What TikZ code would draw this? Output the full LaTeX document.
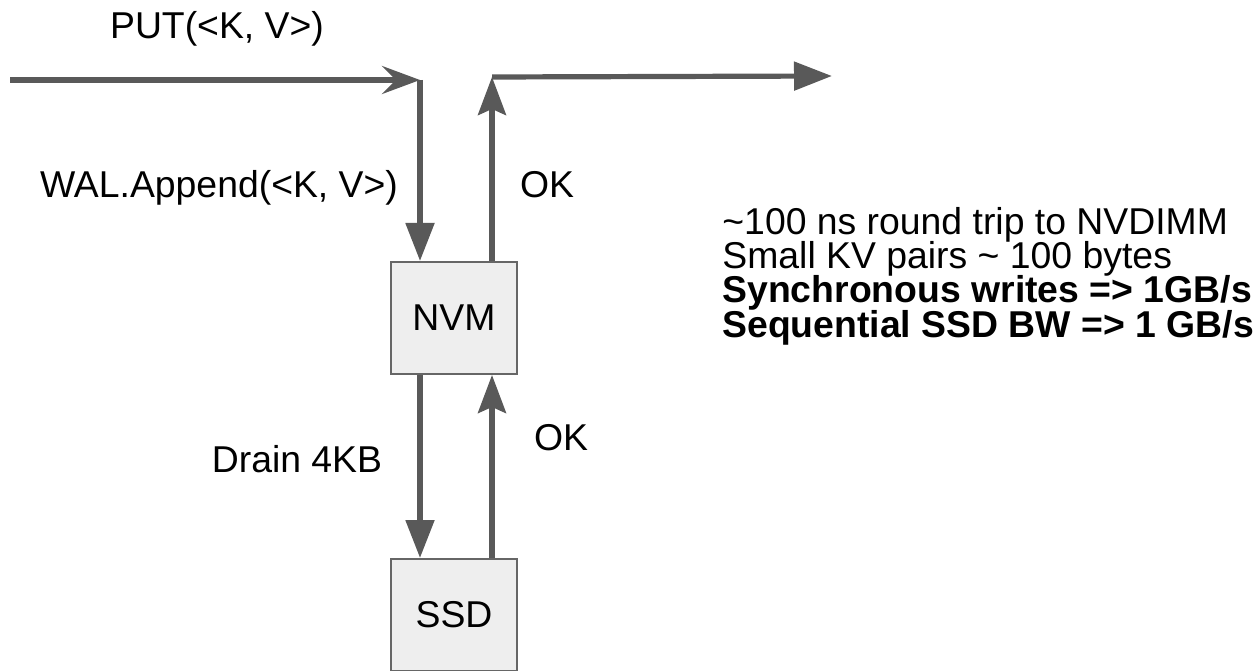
\documentclass[tikz,border=0pt]{standalone}
\usepackage{fontspec}
\setmainfont{Liberation Sans}
\usetikzlibrary{arrows.meta}
\definecolor{arrowgray}{HTML}{595959}
\definecolor{boxfill}{HTML}{EEEEEE}
\definecolor{boxline}{HTML}{666666}

\begin{document}
\begin{tikzpicture}[x=0.5bp, y=-0.5bp,
	every node/.style={font=\fontsize{18.75}{17.2}\selectfont, inner sep=0pt},
	store/.style={draw=boxline, line width=1bp, fill=boxfill, minimum width=63bp, minimum height=56bp},
	flow/.style={draw=arrowgray, line width=2.6bp},
	push/.style={flow, -{Triangle[length=19bp, width=14bp]}},
	back/.style={flow, -{Stealth[length=19bp, width=14bp, inset=3bp]}},
	feed/.style={flow, -{Stealth[length=19bp, width=14bp, inset=7bp]}}]
	\useasboundingbox (0,0) rectangle (1258,670);
	\node[store] (nvm) at (454,318) {NVM};
	\node[store] (ssd) at (454,615) {SSD};
	\coordinate (in) at (10,80);
	\coordinate (turn) at (420,80);
	\coordinate (ack) at (492,77);
	\coordinate (out) at (832,76);
	\draw[feed] (in) -- (turn);
	\draw[push] (turn) -- (turn |- nvm.north);
	\draw[back] (ack |- nvm.north) -- (ack);
	\draw[push] (ack) -- (out);
	\draw[push] (turn |- nvm.south) -- (turn |- ssd.north);
	\draw[back] (ack |- ssd.north) -- (ack |- nvm.south);
	\node[anchor=base] (put) at (217,39) {PUT(<K, V>)};
	\node[anchor=base] (append) at (219,197) {WAL.Append(<K, V>)};
	\node[anchor=base] (okup) at (547,197) {OK};
	\node[anchor=base] (drain) at (297,472) {Drain 4KB};
	\node[anchor=base] (okdown) at (561,450) {OK};
	\node[anchor=base west] (latency) at (722,234) {\textasciitilde100 ns round trip to NVDIMM};
	\node[anchor=base west] (pairs) at (722,268) {Small KV pairs \textasciitilde{} 100 bytes};
	\node[anchor=base west] (sync) at (722,302) {\bfseries Synchronous writes => 1GB/s};
	\node[anchor=base west] (seq) at (722,337) {\bfseries Sequential SSD BW => 1 GB/s};
\end{tikzpicture}
\end{document}
